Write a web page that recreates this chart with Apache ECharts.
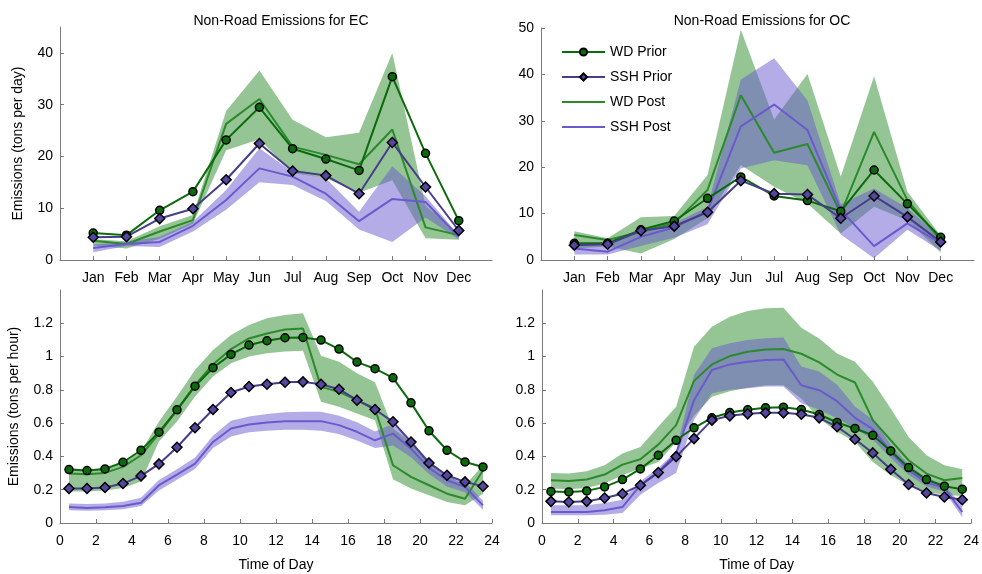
<!DOCTYPE html>
<html>
<head>
<meta charset="utf-8">
<script src="https://cdn.jsdelivr.net/npm/echarts@6/dist/echarts.min.js"></script>
<style>
  html, body { margin: 0; padding: 0; background: #fff; }
  #chart { width: 982px; height: 574px; }
</style>
</head>
<body>
<div id="chart"></div>
<script>
// month labels and their positions on the x axis
const months = ['Jan', 'Feb', 'Mar', 'Apr', 'May', 'Jun', 'Jul', 'Aug', 'Sep', 'Oct', 'Nov', 'Dec'];
const monthPos = [1, 2, 3, 4, 5, 6, 7, 8, 9, 10, 11, 12];
const hours = [0.5, 1.5, 2.5, 3.5, 4.5, 5.5, 6.5, 7.5, 8.5, 9.5, 10.5, 11.5,
  12.5, 13.5, 14.5, 15.5, 16.5, 17.5, 18.5, 19.5, 20.5, 21.5, 22.5, 23.5];

// EC, monthly (tons per day)
const ecWdPrior = [5.2, 4.8, 9.6, 13.2, 23.2, 29.5, 21.5, 19.5, 17.3, 35.4, 20.6, 7.6];
const ecSshPrior = [4.4, 4.5, 8.0, 9.9, 15.5, 22.5, 17.2, 16.3, 12.8, 22.7, 14.1, 5.7];
const ecWdPost = [3.7, 3.1, 5.5, 7.7, 26.3, 31.1, 21.9, 20.3, 18.5, 25.2, 6.3, 4.8];
const ecWdPostLo = [2.8, 2.2, 4.1, 7.0, 21.2, 23.3, 16.8, 15.8, 13.0, 15.4, 4.2, 3.9];
const ecWdPostHi = [4.0, 3.6, 6.5, 8.7, 28.8, 36.6, 27.1, 23.7, 24.6, 40.0, 10.5, 5.1];
const ecSshPost = [2.3, 3.1, 3.5, 6.6, 11.6, 17.7, 16.1, 12.8, 7.5, 11.8, 11.2, 4.5];
const ecSshPostLo = [1.5, 2.7, 2.5, 5.5, 9.7, 15.0, 14.5, 11.4, 5.9, 3.5, 8.2, 4.0];
const ecSshPostHi = [3.0, 3.5, 4.5, 7.4, 13.5, 21.6, 17.0, 15.8, 9.3, 18.1, 12.3, 4.8];

// OC, monthly (tons per day)
const ocWdPrior = [3.6, 3.6, 6.5, 8.4, 13.3, 17.9, 13.8, 12.8, 10.5, 19.4, 12.1, 4.9];
const ocSshPrior = [3.2, 3.4, 6.3, 7.3, 10.3, 17.1, 14.3, 14.1, 9.0, 13.8, 9.3, 3.9];
const ocWdPost = [5.4, 4.3, 6.1, 7.9, 15.1, 35.5, 23.1, 25.0, 10.0, 27.6, 12.9, 4.3];
const ocWdPostLo = [2.5, 2.9, 1.4, 4.5, 9.0, 20.5, 15.8, 12.2, 5.7, 11.5, 8.5, 1.6];
const ocWdPostHi = [6.2, 4.7, 9.2, 9.5, 18.3, 49.6, 30.3, 40.1, 18.0, 39.6, 14.7, 5.2];
const ocSshPost = [2.5, 1.8, 5.0, 7.0, 10.6, 28.8, 33.5, 28.0, 10.8, 3.0, 7.9, 3.6];
const ocSshPostLo = [1.2, 1.2, 3.0, 4.8, 7.7, 19.7, 21.5, 20.4, 5.5, 0.4, 6.5, 2.0];
const ocSshPostHi = [3.6, 3.4, 6.3, 7.9, 11.4, 38.9, 43.5, 34.4, 12.0, 15.4, 11.2, 4.8];

// EC, hourly (tons per hour)
const ecHWdPrior = [0.321, 0.315, 0.325, 0.365, 0.437, 0.546, 0.680, 0.822, 0.933, 1.013, 1.069, 1.095,
  1.113, 1.115, 1.099, 1.045, 0.967, 0.927, 0.872, 0.722, 0.554, 0.437, 0.367, 0.337];
const ecHSshPrior = [0.207, 0.207, 0.213, 0.237, 0.283, 0.355, 0.455, 0.572, 0.682, 0.784, 0.820, 0.834,
  0.846, 0.848, 0.834, 0.804, 0.738, 0.682, 0.608, 0.487, 0.361, 0.287, 0.247, 0.221];
const ecHWdPost = [0.297, 0.293, 0.301, 0.337, 0.407, 0.537, 0.678, 0.828, 0.953, 1.045, 1.109, 1.139,
  1.163, 1.169, 0.818, 0.788, 0.738, 0.688, 0.347, 0.277, 0.227, 0.176, 0.146, 0.317];
const ecHWdPostLo = [0.19, 0.19, 0.195, 0.21, 0.25, 0.49, 0.61, 0.76, 0.88, 0.96, 1.00, 1.02,
  1.03, 1.035, 0.728, 0.698, 0.658, 0.618, 0.263, 0.207, 0.166, 0.126, 0.106, 0.176];
const ecHWdPostHi = [0.33, 0.32, 0.33, 0.36, 0.43, 0.61, 0.76, 0.92, 1.04, 1.13, 1.19, 1.23,
  1.25, 1.26, 1.005, 0.969, 0.90, 0.845, 0.568, 0.487, 0.377, 0.287, 0.227, 0.347];
const ecHSshPost = [0.096, 0.090, 0.094, 0.102, 0.122, 0.227, 0.291, 0.357, 0.487, 0.568, 0.592, 0.604,
  0.612, 0.612, 0.612, 0.588, 0.548, 0.497, 0.537, 0.447, 0.331, 0.257, 0.217, 0.106];
const ecHSshPostLo = [0.076, 0.073, 0.076, 0.083, 0.102, 0.195, 0.26, 0.325, 0.45, 0.52, 0.545, 0.555,
  0.56, 0.56, 0.555, 0.535, 0.495, 0.45, 0.465, 0.395, 0.295, 0.22, 0.185, 0.08];
const ecHSshPostHi = [0.117, 0.114, 0.117, 0.127, 0.152, 0.258, 0.323, 0.393, 0.525, 0.615, 0.64, 0.655,
  0.665, 0.668, 0.668, 0.645, 0.605, 0.55, 0.595, 0.495, 0.365, 0.29, 0.25, 0.133];

// OC, hourly (tons per hour)
const ocHWdPrior = [0.190, 0.187, 0.193, 0.217, 0.261, 0.325, 0.407, 0.497, 0.572, 0.632, 0.664, 0.680,
  0.692, 0.696, 0.682, 0.652, 0.604, 0.568, 0.527, 0.433, 0.333, 0.261, 0.221, 0.203];
const ocHSshPrior = [0.130, 0.126, 0.130, 0.150, 0.176, 0.227, 0.303, 0.399, 0.507, 0.618, 0.644, 0.656,
  0.662, 0.662, 0.654, 0.632, 0.578, 0.503, 0.421, 0.323, 0.231, 0.180, 0.156, 0.140];
const ocHWdPost = [0.257, 0.253, 0.261, 0.291, 0.351, 0.383, 0.471, 0.588, 0.854, 0.953, 1.003, 1.029,
  1.043, 1.045, 1.017, 0.965, 0.892, 0.844, 0.618, 0.497, 0.377, 0.297, 0.257, 0.271];
const ocHWdPostLo = [0.207, 0.203, 0.21, 0.237, 0.287, 0.327, 0.367, 0.487, 0.644, 0.758, 0.792, 0.812,
  0.828, 0.828, 0.748, 0.628, 0.548, 0.487, 0.367, 0.287, 0.227, 0.187, 0.17, 0.162];
const ocHWdPostHi = [0.30, 0.297, 0.311, 0.347, 0.417, 0.457, 0.578, 0.698, 1.059, 1.179, 1.239, 1.274,
  1.29, 1.294, 1.173, 1.109, 1.019, 0.969, 0.848, 0.688, 0.517, 0.407, 0.347, 0.323];
const ocHSshPost = [0.066, 0.066, 0.066, 0.076, 0.096, 0.227, 0.307, 0.417, 0.738, 0.919, 0.953, 0.969,
  0.979, 0.983, 0.828, 0.798, 0.732, 0.632, 0.564, 0.427, 0.317, 0.243, 0.211, 0.066];
const ocHSshPostLo = [0.046, 0.046, 0.046, 0.05, 0.06, 0.17, 0.24, 0.30, 0.62, 0.78, 0.80, 0.81,
  0.82, 0.82, 0.72, 0.68, 0.63, 0.57, 0.50, 0.39, 0.29, 0.22, 0.19, 0.035];
const ocHSshPostHi = [0.106, 0.106, 0.106, 0.12, 0.14, 0.25, 0.33, 0.43, 0.89, 1.05, 1.08, 1.10,
  1.11, 1.115, 0.94, 0.91, 0.83, 0.70, 0.62, 0.47, 0.35, 0.27, 0.23, 0.10];

const monthTicks = [1, 2, 3, 4, 5, 6, 7, 8, 9, 10, 11, 12];
const hourTicks = [0, 2, 4, 6, 8, 10, 12, 14, 16, 18, 20, 22, 24];
const ecDayTicks = [0, 10, 20, 30, 40];
const ocDayTicks = [0, 10, 20, 30, 40, 50];
const hourValueTicks = [0, 0.2, 0.4, 0.6, 0.8, 1, 1.2];

const FONT = 'Liberation Sans, Arial, sans-serif';
const C_WD_PRIOR = '#0b6b0b';
const C_SSH_PRIOR = '#483d8b';
const C_WD_POST = '#2b8a2b';
const C_SSH_POST = '#6a5acd';

const pair = (xs, ys) => xs.map((x, i) => [x, ys[i]]);

// uncertainty band: one polygon, upper edge then lower edge back, through the axis scales
function band(grid, xs, lo, hi, color) {
  return {
    type: 'custom', xAxisIndex: grid, yAxisIndex: grid, silent: true, z: 1,
    data: pair(xs, lo),
    renderItem: (params, api) => {
      if (params.dataIndex !== 0) return;
      const top = xs.map((x, i) => api.coord([x, hi[i]]));
      const bottom = xs.map((x, i) => api.coord([x, lo[i]])).reverse();
      return {
        type: 'polygon',
        shape: { points: top.concat(bottom) },
        style: { fill: color, opacity: 0.5 }
      };
    }
  };
}

function panel(grid, xs, d) {
  return [
    band(grid, xs, d.wdLo, d.wdHi, C_WD_POST),
    band(grid, xs, d.sshLo, d.sshHi, C_SSH_POST),
    {
      name: 'WD Post', type: 'line', xAxisIndex: grid, yAxisIndex: grid,
      data: pair(xs, d.wdPost), symbol: 'none', z: 3,
      lineStyle: { color: C_WD_POST, width: 2 }, itemStyle: { color: C_WD_POST }
    },
    {
      name: 'SSH Post', type: 'line', xAxisIndex: grid, yAxisIndex: grid,
      data: pair(xs, d.sshPost), symbol: 'none', z: 3,
      lineStyle: { color: C_SSH_POST, width: 2 }, itemStyle: { color: C_SSH_POST }
    },
    {
      name: 'WD Prior', type: 'line', xAxisIndex: grid, yAxisIndex: grid,
      data: pair(xs, d.wdPrior), symbol: 'circle', symbolSize: 8, z: 4,
      lineStyle: { color: C_WD_PRIOR, width: 2 },
      itemStyle: { color: C_WD_PRIOR, borderColor: '#000', borderWidth: 1.5 }
    },
    {
      name: 'SSH Prior', type: 'line', xAxisIndex: grid, yAxisIndex: grid,
      data: pair(xs, d.sshPrior), symbol: 'diamond', symbolSize: 10, z: 4,
      lineStyle: { color: C_SSH_PRIOR, width: 2 },
      itemStyle: { color: '#5447a0', borderColor: '#000', borderWidth: 1.5 }
    }
  ];
}

const axisBase = {
  axisLine: { show: true, lineStyle: { color: '#7a7a7a', width: 1 } },
  axisTick: { show: true, inside: true, length: 4, lineStyle: { color: '#7a7a7a' } },
  splitLine: { show: false },
  axisLabel: { color: '#000', fontFamily: FONT, fontSize: 14 },
  nameTextStyle: { color: '#000', fontFamily: FONT, fontSize: 14 }
};

function xMonth(grid) {
  return {
    ...axisBase, type: 'value', gridIndex: grid, min: 0, max: 13,
    axisTick: { ...axisBase.axisTick, customValues: monthTicks },
    axisLabel: { ...axisBase.axisLabel, margin: 11, customValues: monthTicks,
      formatter: v => months[monthPos.indexOf(v)] || '' }
  };
}

function xHour(grid) {
  return {
    ...axisBase, type: 'value', gridIndex: grid, min: 0, max: 24,
    name: 'Time of Day', nameLocation: 'middle', nameGap: 35,
    axisTick: { ...axisBase.axisTick, customValues: hourTicks },
    axisLabel: { ...axisBase.axisLabel, margin: 11, customValues: hourTicks }
  };
}

function yAxis(grid, max, ticks, name, gap) {
  return {
    ...axisBase, type: 'value', gridIndex: grid, min: 0, max,
    name, nameLocation: 'middle', nameGap: gap,
    axisTick: { ...axisBase.axisTick, customValues: ticks },
    axisLabel: { ...axisBase.axisLabel, margin: 7, customValues: ticks }
  };
}

const postLegend = { itemStyle: { opacity: 0 } };

const option = {
  animation: false,
  backgroundColor: '#fff',
  title: [
    { text: 'Non-Road Emissions for EC', left: 276, top: 9, textAlign: 'center',
      textStyle: { fontFamily: FONT, fontSize: 14, fontWeight: 'normal', color: '#000' } },
    { text: 'Non-Road Emissions for OC', left: 757, top: 9, textAlign: 'center',
      textStyle: { fontFamily: FONT, fontSize: 14, fontWeight: 'normal', color: '#000' } }
  ],
  legend: {
    data: [
      { name: 'WD Prior' },
      { name: 'SSH Prior' },
      { name: 'WD Post', ...postLegend },
      { name: 'SSH Post', ...postLegend }
    ],
    orient: 'vertical', left: 561, top: 45, padding: 0,
    itemWidth: 43, itemHeight: 9, itemGap: 11,
    selectedMode: false,
    textStyle: { fontFamily: FONT, fontSize: 14, color: '#000' }
  },
  grid: [
    { left: 60, top: 27, width: 432, height: 233 },
    { left: 541, top: 28, width: 433, height: 232 },
    { left: 60, top: 290, width: 432, height: 233 },
    { left: 542, top: 290, width: 432, height: 233 }
  ],
  xAxis: [xMonth(0), xMonth(1), xHour(2), xHour(3)],
  yAxis: [
    yAxis(0, 45, ecDayTicks, 'Emissions (tons per day)', 35),
    yAxis(1, 50, ocDayTicks, '', 30),
    yAxis(2, 1.4, hourValueTicks, 'Emissions (tons per hour)', 39),
    yAxis(3, 1.4, hourValueTicks, '', 30)
  ],
  series: [
    ...panel(0, monthPos, { wdPrior: ecWdPrior, sshPrior: ecSshPrior, wdPost: ecWdPost,
      wdLo: ecWdPostLo, wdHi: ecWdPostHi, sshPost: ecSshPost, sshLo: ecSshPostLo, sshHi: ecSshPostHi }),
    ...panel(1, monthPos, { wdPrior: ocWdPrior, sshPrior: ocSshPrior, wdPost: ocWdPost,
      wdLo: ocWdPostLo, wdHi: ocWdPostHi, sshPost: ocSshPost, sshLo: ocSshPostLo, sshHi: ocSshPostHi }),
    ...panel(2, hours, { wdPrior: ecHWdPrior, sshPrior: ecHSshPrior, wdPost: ecHWdPost,
      wdLo: ecHWdPostLo, wdHi: ecHWdPostHi, sshPost: ecHSshPost, sshLo: ecHSshPostLo, sshHi: ecHSshPostHi }),
    ...panel(3, hours, { wdPrior: ocHWdPrior, sshPrior: ocHSshPrior, wdPost: ocHWdPost,
      wdLo: ocHWdPostLo, wdHi: ocHWdPostHi, sshPost: ocHSshPost, sshLo: ocHSshPostLo, sshHi: ocHSshPostHi })
  ]
};

const chart = echarts.init(document.getElementById('chart'), null, { renderer: 'canvas' });
chart.setOption(option);
</script>
</body>
</html>
